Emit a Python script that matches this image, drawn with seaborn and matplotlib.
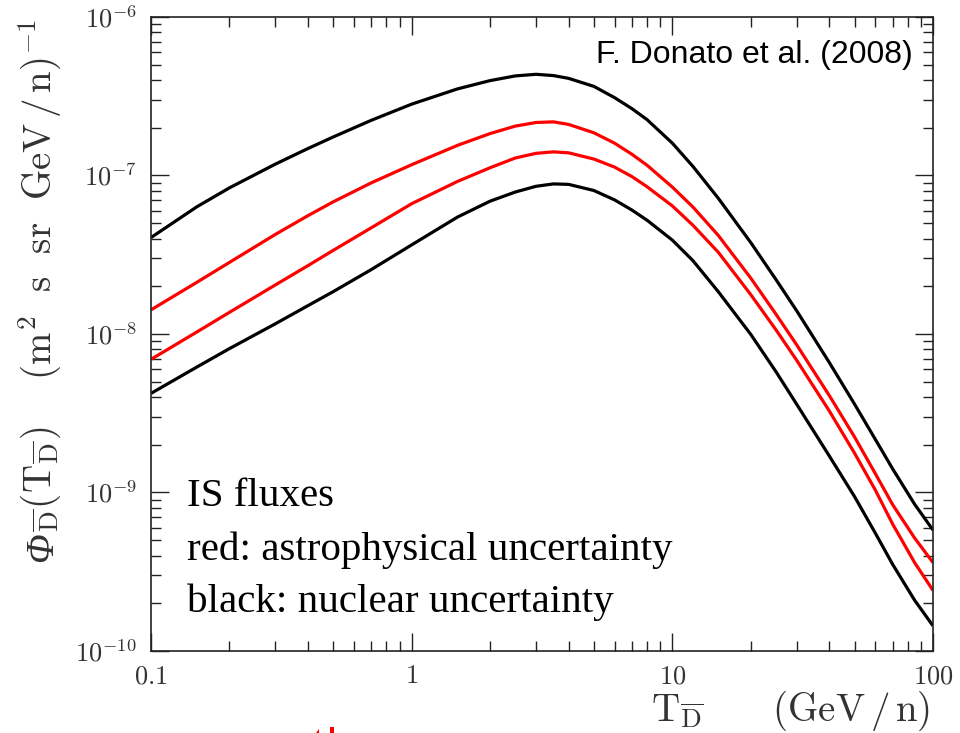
import numpy as np
import pandas as pd
import matplotlib
matplotlib.use("Agg")
import matplotlib.pyplot as plt
import seaborn as sns
from matplotlib.patches import Polygon
from matplotlib.ticker import LogLocator, FixedLocator, NullFormatter

# Kinetic energy per nucleon (GeV/n)
energy = [0.1, 0.15, 0.2, 0.3, 0.4, 0.5, 0.7, 1, 1.5, 2, 2.5, 3, 3.5, 4, 5,
          6, 7, 8, 10, 12, 15, 20, 25, 30, 40, 50, 60, 70, 85, 100]

# Interstellar antideuteron flux, (m^2 s sr GeV/n)^-1
flux_nuclear_max = [4.06e-8, 6.35e-8, 8.36e-8, 1.18e-7, 1.48e-7, 1.75e-7,
                    2.23e-7, 2.82e-7, 3.52e-7, 3.97e-7, 4.25e-7, 4.35e-7,
                    4.27e-7, 4.10e-7, 3.65e-7, 3.10e-7, 2.64e-7, 2.25e-7,
                    1.60e-7, 1.14e-7, 7.19e-8, 3.77e-8, 2.20e-8, 1.40e-8,
                    6.61e-9, 3.61e-9, 2.17e-9, 1.41e-9, 8.43e-10, 5.79e-10]
flux_astro_max = [1.42e-8, 2.12e-8, 2.83e-8, 4.25e-8, 5.58e-8, 6.82e-8,
                  8.99e-8, 1.17e-7, 1.55e-7, 1.84e-7, 2.05e-7, 2.16e-7,
                  2.18e-7, 2.10e-7, 1.86e-7, 1.60e-7, 1.36e-7, 1.16e-7,
                  8.45e-8, 6.32e-8, 4.19e-8, 2.25e-8, 1.33e-8, 8.53e-9,
                  4.09e-9, 2.24e-9, 1.32e-9, 8.38e-10, 5.16e-10, 3.61e-10]
flux_astro_min = [6.92e-9, 1.03e-8, 1.37e-8, 2.04e-8, 2.70e-8, 3.37e-8,
                  4.68e-8, 6.64e-8, 9.18e-8, 1.12e-7, 1.29e-7, 1.38e-7,
                  1.41e-7, 1.39e-7, 1.27e-7, 1.13e-7, 9.84e-8, 8.49e-8,
                  6.43e-8, 4.85e-8, 3.28e-8, 1.77e-8, 1.06e-8, 6.82e-9,
                  3.27e-9, 1.77e-9, 1.04e-9, 6.32e-10, 3.61e-10, 2.41e-10]
flux_nuclear_min = [4.22e-9, 6.19e-9, 8.09e-9, 1.16e-8, 1.51e-8, 1.85e-8,
                    2.55e-8, 3.65e-8, 5.47e-8, 6.89e-8, 7.87e-8, 8.55e-8,
                    8.85e-8, 8.79e-8, 8.04e-8, 7.02e-8, 6.05e-8, 5.22e-8,
                    3.91e-8, 2.90e-8, 1.85e-8, 9.93e-9, 5.77e-9, 3.60e-9,
                    1.70e-9, 9.42e-10, 5.56e-10, 3.52e-10, 2.09e-10, 1.44e-10]

x_ticks = [0.1, 1, 10, 100]
x_tick_labels = [r"$0.1$", r"$1$", r"$10$", r"$100$"]
y_ticks = [1e-10, 1e-9, 1e-8, 1e-7, 1e-6]
y_tick_labels = [r"$10^{-10}$", r"$10^{-9}$", r"$10^{-8}$", r"$10^{-7}$", r"$10^{-6}$"]

curves = [
    ("nuclear max", flux_nuclear_max, "black"),
    ("astro max", flux_astro_max, "#ff0000"),
    ("astro min", flux_astro_min, "#ff0000"),
    ("nuclear min", flux_nuclear_min, "black"),
]

sns.set_theme(style="ticks")
plt.rcParams["mathtext.fontset"] = "cm"

fig = plt.figure(figsize=(9.6, 7.33), dpi=100)
ax = fig.add_axes([0.1573, 0.1119, 0.8146, 0.8649])

for name, flux, col in curves:
    df = pd.DataFrame({"T": energy, "flux": flux})
    sns.lineplot(data=df, x="T", y="flux", color=col, lw=2.3,
                 estimator=None, sort=False, ax=ax, legend=False,
                 solid_joinstyle="round", solid_capstyle="butt")

ax.set_xscale("log")
ax.set_yscale("log")
ax.set_xlim(0.1, 100)
ax.set_ylim(1e-10, 1e-6)

ax.xaxis.set_major_locator(FixedLocator(x_ticks))
ax.set_xticklabels(x_tick_labels)
ax.yaxis.set_major_locator(FixedLocator(y_ticks))
ax.set_yticklabels(y_tick_labels)
ax.xaxis.set_minor_locator(LogLocator(base=10, subs=np.arange(2, 10)))
ax.yaxis.set_minor_locator(LogLocator(base=10, subs=np.arange(2, 10)))
ax.xaxis.set_minor_formatter(NullFormatter())
ax.yaxis.set_minor_formatter(NullFormatter())

ax.tick_params(which="both", direction="in", top=True, right=True,
               color="#222222", width=1.0, labelcolor="#333333",
               labelsize=19)
ax.tick_params(which="major", length=13)
ax.tick_params(which="minor", length=7)
ax.tick_params(axis="y", pad=10)
ax.tick_params(axis="x", pad=9)
for s in ax.spines.values():
    s.set_linewidth(1.2)
    s.set_color("#222222")

ax.set_xlabel("")
ax.set_ylabel("")

# y-axis title: italic Phi followed by the rest of the expression
label_x = 0.054
phi = fig.text(label_x, 0.233, "Φ", rotation=90, rotation_mode="anchor",
               ha="left", va="baseline", fontsize=28, fontstyle="italic",
               family="Liberation Serif", color="#333333")
fig.canvas.draw()
phi_top = phi.get_window_extent(fig.canvas.get_renderer()).y1 / fig.bbox.height
fig.text(label_x, phi_top,
         r"$_{\overline{\mathrm{D}}}(\mathrm{T}_{\overline{\mathrm{D}}})"
         r"\quad\ (\mathrm{m}^{2}\ \ \mathrm{s}\ \ \mathrm{sr}\ \ "
         r"\mathrm{GeV}\,/\,\mathrm{n})^{-1}$",
         rotation=90, rotation_mode="anchor", ha="left", va="baseline",
         fontsize=28, color="#333333")

# x-axis title
fig.text(0.969, 0.016,
         r"$\mathrm{T}_{\overline{\mathrm{D}}}\qquad(\mathrm{GeV}\,/\,\mathrm{n})$",
         ha="right", va="baseline", fontsize=28, color="#333333")

# Annotations
ax.text(0.974, 0.94, "F. Donato et al. (2008)", transform=ax.transAxes,
        ha="right", va="center", fontsize=23, family="Liberation Sans",
        color="black")
for txt, yy in [("IS fluxes", 0.243),
                ("red: astrophysical uncertainty", 0.159),
                ("black: nuclear uncertainty", 0.077)]:
    ax.text(0.046, yy, txt, transform=ax.transAxes, ha="left", va="center",
            fontsize=29.5, family="Liberation Serif", color="black")

# Red glyph fragment peeking in at the bottom edge
for pts in ([(0.3292, 0.0), (0.3323, 0.0), (0.3323, 0.0055)],
            [(0.3438, 0.0), (0.3479, 0.0), (0.3479, 0.0082), (0.3438, 0.0082)]):
    fig.patches.append(Polygon(pts, closed=True, transform=fig.transFigure,
                               facecolor="#ff0000", edgecolor="none"))

fig.savefig("out.png", dpi=100)
